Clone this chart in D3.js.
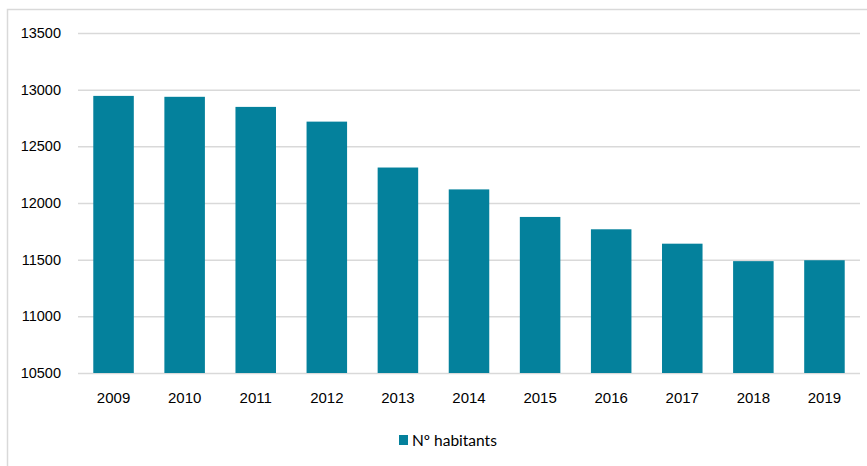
<!DOCTYPE html>
<html><head><meta charset="utf-8">
<script src="https://cdn.jsdelivr.net/npm/d3@7"></script>
<style>body{margin:0;background:#fff;} svg{display:block;font-family:Lato,"Open Sans",sans-serif;}</style>
</head><body><svg id="c" width="867" height="466"></svg>
<script>
const years = ["2009","2010","2011","2012","2013","2014","2015","2016","2017","2018","2019"];
const habitants = [12945, 12937, 12848, 12718, 12313, 12120, 11877, 11768, 11641, 11487, 11495];
const yTicks = [10500, 11000, 11500, 12000, 12500, 13000, 13500];
const seriesName = "Nº habitants";

const svg = d3.select("#c");
const color = "#04819c";
// border
svg.append("rect").attr("x",7.5).attr("y",9.5).attr("width",900).attr("height",500)
  .attr("fill","none").attr("stroke","#d9d9d9").attr("stroke-width",1.5);

const x = d3.scaleBand().domain(years).range([78, 860]).paddingInner(0.43).paddingOuter(0.215);
const y = d3.scaleLinear().domain([10500, 13500]).range([373, 33]);

const yAxis = svg.append("g").attr("transform","translate(78,0)")
  .call(d3.axisLeft(y).tickValues(yTicks).tickSize(-782).tickFormat(d3.format("d")).tickPadding(17));
yAxis.select(".domain").remove();
yAxis.selectAll(".tick line").attr("stroke","#d9d9d9").attr("stroke-width",1.5);
yAxis.selectAll(".tick text").attr("fill","#000").style("font-size","14.5px");

svg.append("g").selectAll("rect").data(habitants).join("rect")
  .attr("x",(d,i)=>x(years[i])).attr("width",x.bandwidth())
  .attr("y",d=>y(d)).attr("height",d=>y(10500)-y(d)).attr("fill",color);

const xAxis = svg.append("g").attr("transform","translate(0,373)")
  .call(d3.axisBottom(x).tickSize(0).tickPadding(19));
xAxis.select(".domain").remove();
xAxis.selectAll(".tick text").attr("fill","#000").style("font-size","15px");

const lg = svg.append("g").attr("transform","translate(399,435)");
lg.append("rect").attr("width",9).attr("height",10).attr("fill",color);
lg.append("text").attr("x",13).attr("y",10.5).text(seriesName).style("font-size","15.5px").attr("fill","#000");
</script></body></html>
